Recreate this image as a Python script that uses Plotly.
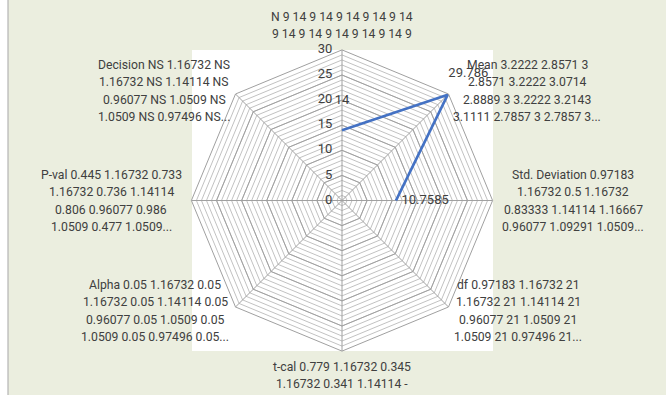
import plotly.graph_objects as go

# Categories around the radar, clockwise from the top
categories = ["N", "Mean", "Std. Deviation", "df", "t-cal", "Alpha", "P-val", "Decision"]

# Series values (blank cells after the third category)
values = [14, 29.786, 10.7585, None, None, None, None, None]

# Multi-line category labels
cat_label_lines = [
    ["N 9 14 9 14 9 14 9 14 9 14", "9 14 9 14 9 14 9 14 9 14 9"],
    ["Mean 3.2222 2.8571 3", "2.8571 3.2222 3.0714", "2.8889 3 3.2222 3.2143", "3.1111 2.7857 3 2.7857 3..."],
    ["Std. Deviation 0.97183", "1.16732 0.5 1.16732", "0.83333 1.14114 1.16667", "0.96077 1.09291 1.0509..."],
    ["df 0.97183 1.16732 21", "1.16732 21 1.14114 21", "0.96077 21 1.0509 21", "1.0509 21 0.97496 21..."],
    ["t-cal 0.779 1.16732 0.345", "1.16732 0.341 1.14114 -"],
    ["Alpha 0.05 1.16732 0.05", "1.16732 0.05 1.14114 0.05", "0.96077 0.05 1.0509 0.05", "1.0509 0.05 0.97496 0.05..."],
    ["P-val 0.445 1.16732 0.733", "1.16732 0.736 1.14114", "0.806 0.96077 0.986", "1.0509 0.477 1.0509..."],
    ["Decision NS 1.16732 NS", "1.16732 NS 1.14114 NS", "0.96077 NS 1.0509 NS", "1.0509 NS 0.97496 NS..."],
]

# Radial scale
r_min, r_max = 0, 30
minor_ticks = list(range(r_min, r_max + 1, 1))
major_ticks = list(range(r_min, r_max + 1, 5))
major_text = [str(t) for t in major_ticks]

W, H = 666, 395
TEXT = "#404040"
FONT = "Roboto"
LINE_BLUE = "#4472C4"

# Label block placement (pixel centre x, first line y) for each category
label_anchor = [
    (342, 17), (527, 65), (573, 175), (518, 285),
    (342, 367), (155, 285), (111, 175), (164, 65),
]
LINE_STEP = 17.3
LABEL_OFFSET = 5.8   # radial gap between a point and its value label
LABEL_RANGE = 36     # radial reach of the text layer
EPS = 0.02           # nudges the scale number at the centre off the exact origin

# Polar area geometry (pixels)
cx, cy, rad = 342, 200.5, 150.6


def domain_for(radius):
    return dict(x=[(cx - radius) / W, (cx + radius) / W],
                y=[(H - cy - radius) / H, (H - cy + radius) / H])


def px(x, y):
    return x / W, 1 - y / H


fig = go.Figure()

# Underlying subplot: fine rings at every unit
fig.add_trace(go.Scatterpolar(
    r=[None] * len(categories), theta=categories, mode="lines",
    subplot="polar", showlegend=False, hoverinfo="skip",
))

# Series line
fig.add_trace(go.Scatterpolar(
    r=values, theta=categories, mode="lines",
    line=dict(color=LINE_BLUE, width=2.75),
    connectgaps=False, subplot="polar2", showlegend=False,
))

# Radial scale numbers, left of the top spoke
fig.add_trace(go.Scatterpolar(
    r=[t + EPS for t in major_ticks], theta=[categories[0]] * len(major_ticks), mode="text",
    text=[t + "\u00a0\u00a0\u00a0" for t in major_text],
    textposition="middle left",
    textfont=dict(family=FONT, size=13, color=TEXT),
    cliponaxis=False, subplot="polar3", showlegend=False, hoverinfo="skip",
))

# Value labels just outside each point along its spoke
lab_r = [v + LABEL_OFFSET for v in values if v is not None]
lab_t = [c for c, v in zip(categories, values) if v is not None]
lab_s = [f"{v:g}" for v in values if v is not None]
fig.add_trace(go.Scatterpolar(
    r=lab_r, theta=lab_t, mode="text", text=lab_s,
    textposition="middle center",
    textfont=dict(family=FONT, size=13, color=TEXT),
    cliponaxis=False, subplot="polar3", showlegend=False, hoverinfo="skip",
))

angular_common = dict(
    type="category", categoryorder="array", categoryarray=categories,
    rotation=90, direction="clockwise", showticklabels=False, ticks="",
)

fig.update_layout(
    width=W, height=H,
    margin=dict(l=0, r=0, t=0, b=0),
    paper_bgcolor="#EBEEDF",
    polar=dict(
        domain=domain_for(rad),
        gridshape="linear",
        bgcolor="white",
        radialaxis=dict(range=[r_min, r_max], tickvals=minor_ticks,
                        showticklabels=False, ticks="", showline=False,
                        gridcolor="#C2C2C2", gridwidth=1),
        angularaxis=dict(**angular_common, showgrid=False, showline=False),
    ),
    polar2=dict(
        domain=domain_for(rad),
        gridshape="linear",
        bgcolor="rgba(0,0,0,0)",
        radialaxis=dict(range=[r_min, r_max], tickvals=major_ticks,
                        showticklabels=False, ticks="", showline=False,
                        gridcolor="#A0A0A0", gridwidth=1),
        angularaxis=dict(**angular_common, showgrid=True, gridcolor="#A0A0A0",
                         showline=True, linecolor="#A0A0A0", linewidth=1),
    ),
    polar3=dict(
        domain=domain_for(rad * LABEL_RANGE / r_max),
        gridshape="linear",
        bgcolor="rgba(0,0,0,0)",
        radialaxis=dict(range=[r_min, LABEL_RANGE], visible=False, showgrid=False),
        angularaxis=dict(**angular_common, showgrid=False, showline=False),
    ),
)

# White plot area behind the radar, white strip and border at the left edge
x0, y0 = px(192, 50)
x1, y1 = px(493, 351)
fig.add_shape(type="rect", xref="paper", yref="paper", x0=x0, x1=x1, y0=y1, y1=y0,
              fillcolor="white", line=dict(width=0), layer="below")
bx, _ = px(8, 0)
fig.add_shape(type="rect", xref="paper", yref="paper", x0=0, x1=bx, y0=0, y1=1,
              fillcolor="white", line=dict(width=0), layer="below")
fig.add_shape(type="line", xref="paper", yref="paper", x0=bx, x1=bx, y0=0, y1=1,
              line=dict(color="#B4B4B4", width=1.2), layer="below")

# Category labels, one annotation per line, centred
for lines, (ax_x, ax_y) in zip(cat_label_lines, label_anchor):
    for i, s in enumerate(lines):
        xx, yy = px(ax_x, ax_y + i * LINE_STEP)
        fig.add_annotation(x=xx, y=yy, xref="paper", yref="paper", text=s,
                           showarrow=False, xanchor="center", yanchor="middle",
                           font=dict(family=FONT, size=12.2, color=TEXT))

fig.write_html("out.html")
